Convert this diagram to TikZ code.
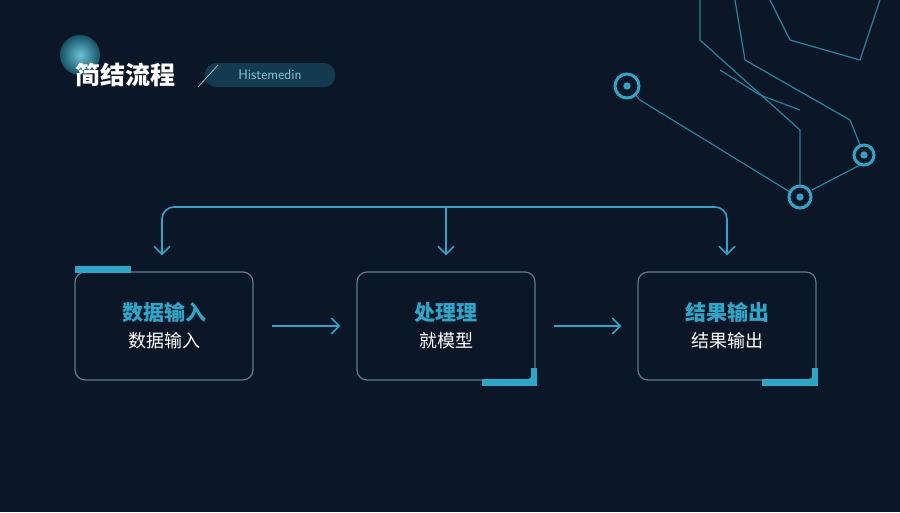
\documentclass[tikz,border=0pt]{standalone}
\usepackage{fontspec}
\newfontfamily\cjk{Noto Sans CJK SC}
\usetikzlibrary{arrows.meta}
\definecolor{bgdark}{HTML}{0B1626}
\definecolor{accent}{HTML}{2AA7C9}
\definecolor{edge}{HTML}{5E7C8C}
\tikzset{
  stepbox/.style={draw=edge, line width=1.2pt, rounded corners=10pt, minimum width=178pt, minimum height=108pt, align=center, font=\cjk},
  flow/.style={accent, line width=1.6pt, -{Straight Barb[length=8pt,width=16pt]}},
  wire/.style={accent!80!black, line width=1.2pt}
}
\begin{document}
\begin{tikzpicture}[x=1pt, y=-1pt]

%Background
\fill[bgdark] (0,0) rectangle (900,512);
\useasboundingbox (0,0) rectangle (900,512);

%Circuit decoration
\draw[wire] (627,86) -- (640,100) -- (790,192);
\draw[wire] (700,0) -- (700,40) -- (800,130) -- (800,185);
\draw[wire] (735,0) -- (745,60) -- (850,120) -- (864,155);
\draw[wire] (812,190) -- (860,165);
\draw[wire] (770,0) -- (790,40) -- (860,60) -- (880,0);
\draw[wire] (720,70) -- (760,95) -- (800,110);
\foreach \cx/\cy/\r in {627/86/12, 864/155/10, 800/197/11}
  \draw[accent, line width=3pt, fill=bgdark] (\cx,\cy) circle (\r) (\cx,\cy) circle (2);

%Title
\shade[inner color=accent!70, outer color=accent!50!black] (80,55) circle (20);
\node[anchor=west, text=white, font=\cjk\bfseries\fontsize{25}{28}\selectfont] (title) at (72,75) {简结流程};
\fill[accent!25!bgdark, rounded corners=11pt] (205,63) rectangle (335,87);
\draw[accent!60, line width=0.8pt] (198,87) -- (218,65);
\node[text=accent!60, font=\sffamily\fontsize{14}{16}\selectfont] (tag) at (270,75) {Histemedin};

%Steps
\node[stepbox] (s1) at (164,326) {{\color{accent}\bfseries\fontsize{21}{24}\selectfont 数据输入}\\[9pt]{\color{white}\fontsize{18}{21}\selectfont 数据输入}};
\node[stepbox] (s2) at (446,326) {{\color{accent}\bfseries\fontsize{21}{24}\selectfont 处理理}\\[9pt]{\color{white}\fontsize{18}{21}\selectfont 就模型}};
\node[stepbox] (s3) at (727,326) {{\color{accent}\bfseries\fontsize{21}{24}\selectfont 结果输出}\\[9pt]{\color{white}\fontsize{18}{21}\selectfont 结果输出}};

%Corner accents
\fill[accent] (75,266) rectangle (131,273);
\fill[accent] (482,379) rectangle (537,386);
\fill[accent] (531,368) rectangle (537,386);
\fill[accent] (762,379) rectangle (818,386);
\fill[accent] (812,368) rectangle (818,386);

%Connectors
\coordinate (top) at (446,207);
\draw[flow] (top) -- ([yshift=16pt]s2.north);
\draw[flow, rounded corners=12pt] (top) -- (162,207) -- ([xshift=-2pt, yshift=16pt]s1.north);
\draw[flow, rounded corners=12pt] (top) -- (727,207) -- ([yshift=16pt]s3.north);
\draw[flow] ([xshift=18pt]s1.east) -- ([xshift=-16pt]s2.west);
\draw[flow] ([xshift=18pt]s2.east) -- ([xshift=-16pt]s3.west);
\end{tikzpicture}
\end{document}
